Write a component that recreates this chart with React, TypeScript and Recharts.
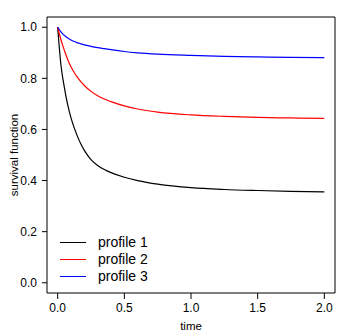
import { LineChart, Line, XAxis, YAxis, ReferenceArea, Legend } from "recharts"

// time points and survival estimates
const times = [0, 0.025, 0.05, 0.075, 0.1, 0.125, 0.15, 0.175, 0.2, 0.25, 0.3, 0.35, 0.4, 0.5, 0.6, 0.75, 1.0, 1.25, 1.5, 1.75, 2.0]
const profile1 = [1.0, 0.85, 0.765, 0.697, 0.645, 0.605, 0.571, 0.542, 0.518, 0.482, 0.459, 0.443, 0.431, 0.413, 0.4, 0.386, 0.372, 0.365, 0.361, 0.358, 0.356]
const profile2 = [1.0, 0.95, 0.91, 0.874, 0.845, 0.822, 0.803, 0.786, 0.772, 0.749, 0.732, 0.719, 0.709, 0.692, 0.68, 0.668, 0.657, 0.651, 0.647, 0.645, 0.643]
const profile3 = [1.0, 0.982, 0.968, 0.958, 0.95, 0.944, 0.939, 0.935, 0.931, 0.925, 0.92, 0.916, 0.912, 0.905, 0.9, 0.895, 0.89, 0.886, 0.884, 0.882, 0.881]

const seriesNames = ["profile 1", "profile 2", "profile 3"]
const seriesColors = ["#000000", "#ff0000", "#0000ff"]
const xTicks = [0, 0.5, 1, 1.5, 2]
const yTicks = [0, 0.2, 0.4, 0.6, 0.8, 1]

const data = times.map((t, i) => ({
  t,
  p1: profile1[i],
  p2: profile2[i],
  p3: profile3[i],
}))
const keys = ["p1", "p2", "p3"]

function LegendBox() {
  return (
    <div style={{ fontSize: 14, lineHeight: "17px", color: "#000" }}>
      {seriesNames.map((name, i) => (
        <div key={name} style={{ display: "flex", alignItems: "center", height: 17 }}>
          <span style={{ display: "inline-block", width: 26, borderTop: `1px solid ${seriesColors[i]}`, marginRight: 12 }} />
          <span>{name}</span>
        </div>
      ))}
    </div>
  )
}

export default function App() {
  return (
    <div style={{ position: "absolute", left: 0, top: 0, fontFamily: "'Liberation Sans', Arial, sans-serif", background: "#fff" }}>
      <LineChart width={349} height={335} data={data} margin={{ top: 17, right: 14, bottom: 0, left: 0 }}>
        <XAxis
          dataKey="t"
          type="number"
          domain={[-0.08, 2.08]}
          ticks={xTicks}
          tickFormatter={(v: number) => v.toFixed(1)}
          axisLine={false}
          tickLine={{ stroke: "#000" }}
          tickSize={6}
          tickMargin={4}
          height={42}
          tick={{ fill: "#000", fontSize: 12 }}
          label={{ value: "time", position: "insideBottom", offset: 5, fill: "#000", fontSize: 11.5 }}
        />
        <YAxis
          type="number"
          domain={[-0.04, 1.04]}
          ticks={yTicks}
          tickFormatter={(v: number) => v.toFixed(1)}
          axisLine={false}
          tickLine={{ stroke: "#000" }}
          tickSize={5}
          tickMargin={5}
          width={47}
          tick={{ fill: "#000", fontSize: 12 }}
          label={{
            content: (props: any) => {
              const vb = props.viewBox
              const cx = vb.x + 14
              const cy = vb.y + vb.height / 2
              return (
                <text x={cx} y={cy} transform={`rotate(-90, ${cx}, ${cy})`} textAnchor="middle" dominantBaseline="central" fontSize={11.5} fill="#000">
                  survival function
                </text>
              )
            },
          }}
        />
        <ReferenceArea x1={-0.08} x2={2.08} y1={-0.04} y2={1.04} fill="none" stroke="#000" strokeWidth={1} ifOverflow="visible" />
        {keys.map((k, i) => (
          <Line key={k} dataKey={k} name={seriesNames[i]} type="monotone" stroke={seriesColors[i]} strokeWidth={1.2} dot={false} isAnimationActive={false} />
        ))}
        <Legend layout="horizontal" verticalAlign="middle" align="center" content={() => <LegendBox />} wrapperStyle={{ position: "absolute", left: 60, top: 234, width: "auto" }} />
      </LineChart>
    </div>
  )
}
